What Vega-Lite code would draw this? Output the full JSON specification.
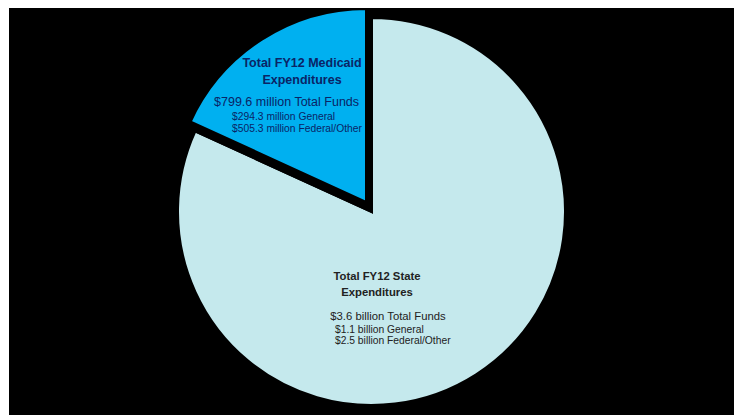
{
  "$schema": "https://vega.github.io/schema/vega-lite/v6.json",
  "width": 734,
  "height": 415,
  "autosize": {"type": "fit", "contains": "padding"},
  "padding": {"left": 9, "top": 8, "right": 0, "bottom": 0},
  "background": "#ffffff",
  "config": {
    "view": {"stroke": null},
    "text": {"font": "Liberation Sans"}
  },
  "data": {
    "values": [
      {"segment": "Total FY12 State Expenditures", "order": 1, "value": 3600, "title": "Total FY12 State\nExpenditures", "total": "$3.6 billion Total Funds", "detail": "$1.1 billion General\n$2.5 billion Federal/Other"},
      {"segment": "Total FY12 Medicaid Expenditures", "order": 2, "value": 799.6, "title": "Total FY12 Medicaid\nExpenditures", "total": "$799.6 million Total Funds", "detail": "$294.3 million General\n$505.3 million Federal/Other"}
    ]
  },
  "layer": [
    {
      "mark": {"type": "rect", "fill": "#000000"},
      "encoding": {}
    },
    {
      "mark": {"type": "arc", "outerRadius": 194, "stroke": "#000000", "strokeWidth": 3, "clip": true},
      "encoding": {
        "theta": {"field": "value", "type": "quantitative", "stack": true},
        "order": {"field": "order", "type": "ordinal"},
        "fill": {"condition": {"test": "datum.order === 1", "value": "#c5e9ed"}, "value": "#000000"}
      }
    },
    {
      "mark": {"type": "arc", "outerRadius": 194, "stroke": "#000000", "strokeWidth": 3, "xOffset": -5, "yOffset": -9, "clip": true, "fill": "#00b0f0"},
      "encoding": {
        "theta": {"field": "value", "type": "quantitative", "stack": true},
        "order": {"field": "order", "type": "ordinal"},
        "opacity": {"condition": {"test": "datum.order === 2", "value": 1}, "value": 0}
      }
    },
    {
      "mark": {"type": "text", "radius": 135, "fontWeight": "bold", "fontSize": 12.5, "lineHeight": 17, "lineBreak": "\n", "align": "center", "baseline": "middle", "dx": 3.5, "dy": -34.6, "fill": "#0a2466"},
      "encoding": {
        "theta": {"field": "value", "type": "quantitative", "stack": true},
        "order": {"field": "order", "type": "ordinal"},
        "text": {"condition": {"test": "datum.order === 2", "field": "title"}, "value": ""}
      }
    },
    {
      "mark": {"type": "text", "radius": 135, "fontSize": 12.5, "align": "center", "baseline": "middle", "dx": -12, "dy": 4.1, "fill": "#0a2466"},
      "encoding": {
        "theta": {"field": "value", "type": "quantitative", "stack": true},
        "order": {"field": "order", "type": "ordinal"},
        "text": {"condition": {"test": "datum.order === 2", "field": "total"}, "value": ""}
      }
    },
    {
      "mark": {"type": "text", "radius": 135, "fontSize": 10.3, "lineHeight": 12, "lineBreak": "\n", "align": "left", "baseline": "middle", "dx": -66.5, "dy": 19.4, "fill": "#0a2466"},
      "encoding": {
        "theta": {"field": "value", "type": "quantitative", "stack": true},
        "order": {"field": "order", "type": "ordinal"},
        "text": {"condition": {"test": "datum.order === 2", "field": "detail"}, "value": ""}
      }
    },
    {
      "mark": {"type": "text", "radius": 135, "fontWeight": "bold", "fontSize": 11.3, "lineHeight": 16, "lineBreak": "\n", "align": "center", "baseline": "middle", "dx": -67.5, "dy": -48.1, "fill": "#222222"},
      "encoding": {
        "theta": {"field": "value", "type": "quantitative", "stack": true},
        "order": {"field": "order", "type": "ordinal"},
        "text": {"condition": {"test": "datum.order === 1", "field": "title"}, "value": ""}
      }
    },
    {
      "mark": {"type": "text", "radius": 135, "fontSize": 11.3, "align": "center", "baseline": "middle", "dx": -56.5, "dy": -8.1, "fill": "#222222"},
      "encoding": {
        "theta": {"field": "value", "type": "quantitative", "stack": true},
        "order": {"field": "order", "type": "ordinal"},
        "text": {"condition": {"test": "datum.order === 1", "field": "total"}, "value": ""}
      }
    },
    {
      "mark": {"type": "text", "radius": 135, "fontSize": 10.3, "lineHeight": 11, "lineBreak": "\n", "align": "left", "baseline": "middle", "dx": -109.5, "dy": 4.9, "fill": "#222222"},
      "encoding": {
        "theta": {"field": "value", "type": "quantitative", "stack": true},
        "order": {"field": "order", "type": "ordinal"},
        "text": {"condition": {"test": "datum.order === 1", "field": "detail"}, "value": ""}
      }
    }
  ]
}
